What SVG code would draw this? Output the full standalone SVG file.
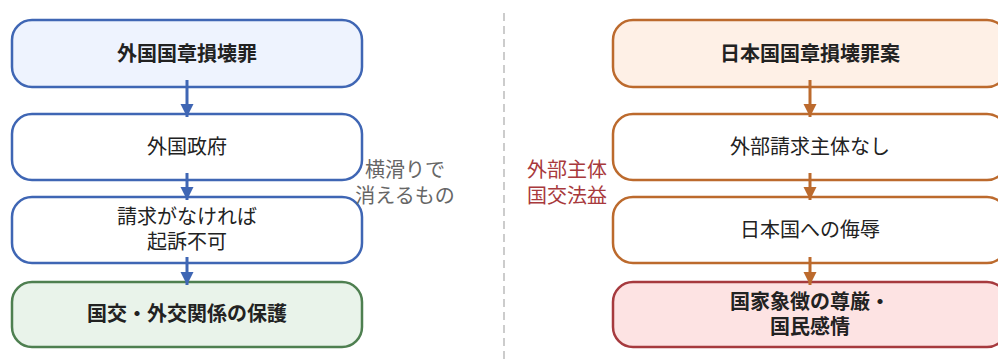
<svg xmlns="http://www.w3.org/2000/svg" width="998" height="360" viewBox="0 0 998 360">
<defs>
<style>
text{font-family:"Noto Sans CJK JP","Noto Sans",sans-serif;font-size:20px;text-anchor:middle;fill:#222}
.b{font-weight:bold}
.box{stroke-width:2.5}
.blue{stroke:#3F66B4}
.org{stroke:#BC6A2D}
.lblue{fill:#EEF3FE;stroke:#3F66B4}
.wb{fill:#FFFFFF;stroke:#3F66B4}
.grn{fill:#E9F3EA;stroke:#4E7F50}
.lorg{fill:#FEF0E6;stroke:#BC6A2D}
.wo{fill:#FFFFFF;stroke:#BC6A2D}
.red{fill:#FDE3E3;stroke:#A63A3E}
.conn{stroke-width:3;fill:none}
.gray{fill:#666666}
.rl{fill:#A8393C}
</style>
<marker id="ab" viewBox="0 0 10 10" refX="10" refY="5" markerWidth="4.4" markerHeight="4.4" orient="auto" markerUnits="strokeWidth"><path d="M0,0 L10,5 L0,10 z" fill="#3F66B4"/></marker>
<marker id="ao" viewBox="0 0 10 10" refX="10" refY="5" markerWidth="4.4" markerHeight="4.4" orient="auto" markerUnits="strokeWidth"><path d="M0,0 L10,5 L0,10 z" fill="#BC6A2D"/></marker>
</defs>
<rect width="998" height="360" fill="#FFFFFF"/>
<line x1="504" y1="13" x2="504" y2="360" stroke="#CCCCCC" stroke-width="2" stroke-dasharray="8 5"/>
<g id="l1"><rect class="box lblue" x="12" y="20" width="350" height="67" rx="20"/><text class="b" x="187" y="61">外国国章損壊罪</text></g>
<g id="l2"><rect class="box wb" x="12" y="114" width="350" height="66" rx="20"/><text x="187" y="154">外国政府</text></g>
<g id="l3"><rect class="box wb" x="12" y="197" width="350" height="66" rx="20"/><text x="187" y="224">請求がなければ</text><text x="187" y="249">起訴不可</text></g>
<g id="l4"><rect class="box grn" x="12" y="282" width="350" height="65" rx="20"/><text class="b" x="187" y="321">国交・外交関係の保護</text></g>
<g id="r1"><rect class="box lorg" x="613" y="20" width="394" height="67" rx="20"/><text class="b" x="810" y="61">日本国国章損壊罪案</text></g>
<g id="r2"><rect class="box wo" x="613" y="114" width="394" height="66" rx="20"/><text x="810" y="154">外部請求主体なし</text></g>
<g id="r3"><rect class="box wo" x="613" y="197" width="394" height="66" rx="20"/><text x="810" y="237">日本国への侮辱</text></g>
<g id="r4"><rect class="box red" x="613" y="282" width="394" height="65" rx="20"/><text class="b" x="810" y="309">国家象徴の尊厳・</text><text class="b" x="810" y="334">国民感情</text></g>
<g id="lab1"><text class="gray" x="405" y="177">横滑りで</text><text class="gray" x="405" y="203">消えるもの</text></g>
<g id="lab2"><text class="rl" x="567" y="177">外部主体</text><text class="rl" x="567" y="203">国交法益</text></g>
<g id="connectors">
<line class="conn blue" x1="187" y1="80" x2="187" y2="117" marker-end="url(#ab)"/>
<line class="conn blue" x1="187" y1="173" x2="187" y2="200" marker-end="url(#ab)"/>
<line class="conn blue" x1="187" y1="257" x2="187" y2="285" marker-end="url(#ab)"/>
<line class="conn org" x1="810" y1="80" x2="810" y2="117" marker-end="url(#ao)"/>
<line class="conn org" x1="810" y1="173" x2="810" y2="200" marker-end="url(#ao)"/>
<line class="conn org" x1="810" y1="257" x2="810" y2="285" marker-end="url(#ao)"/>
</g>
</svg>
